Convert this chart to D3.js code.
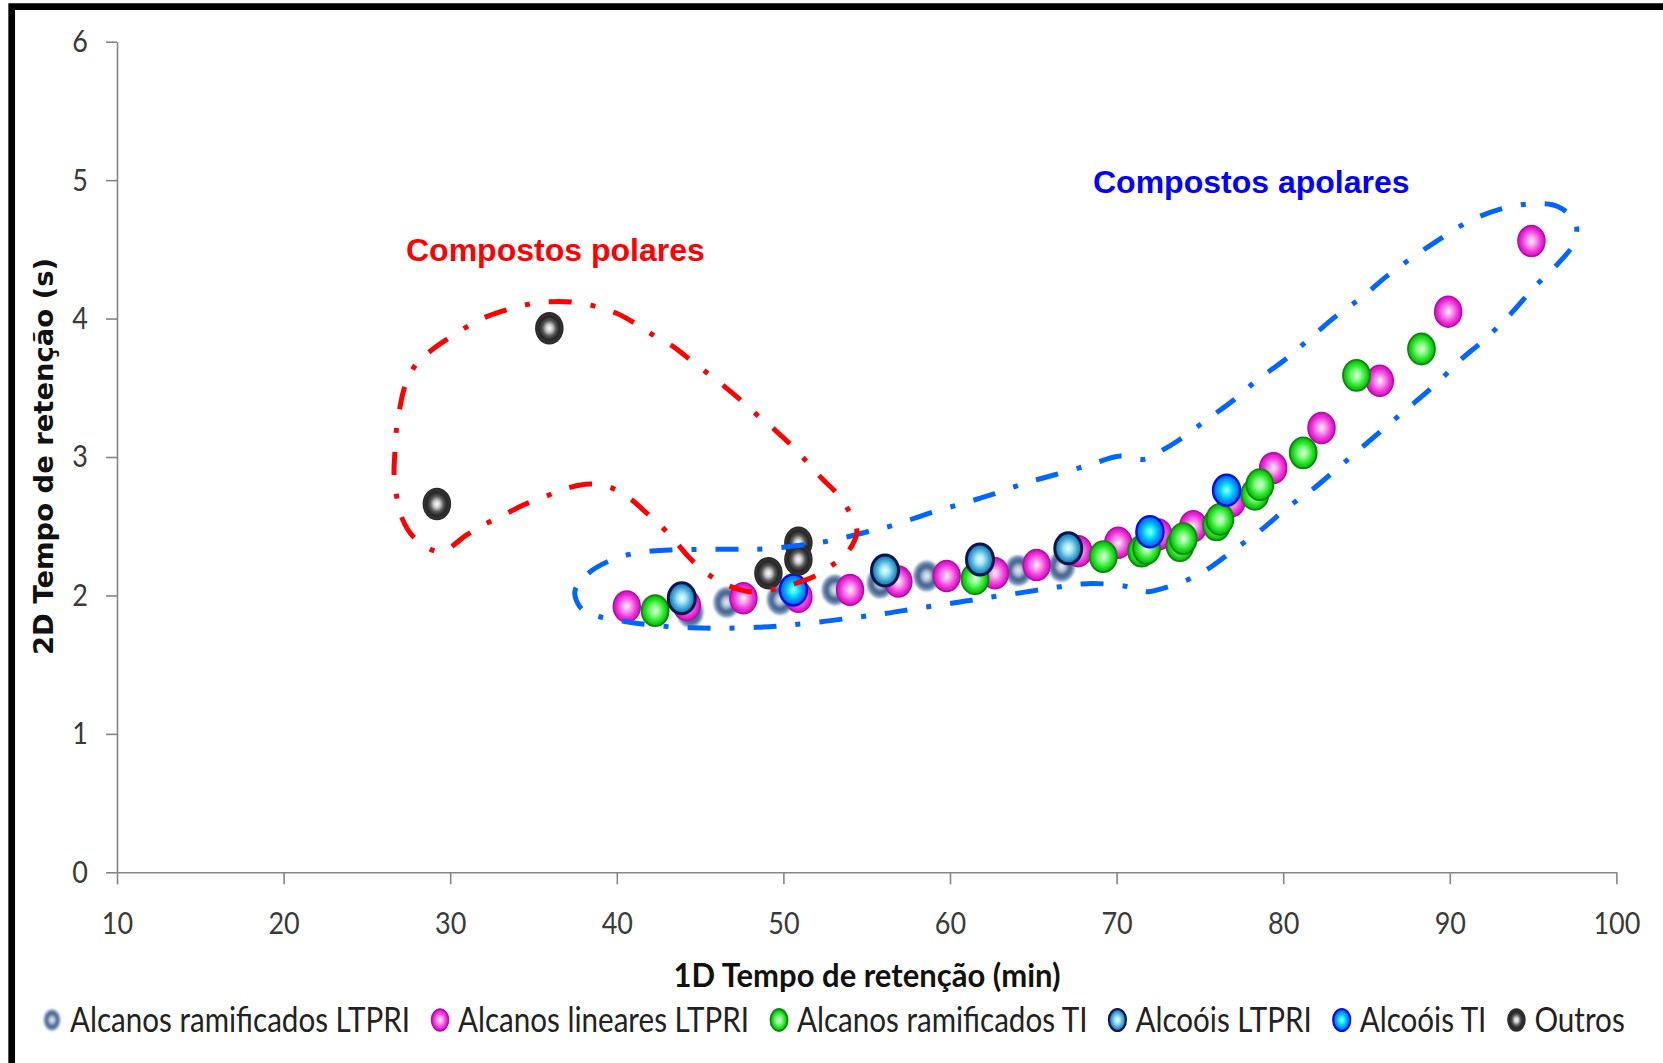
<!DOCTYPE html>
<html>
<head>
<meta charset="utf-8">
<script src="https://cdn.jsdelivr.net/npm/d3@7"></script>
<style>
  html, body { margin: 0; padding: 0; background: #fff; }
  svg { display: block; }
</style>
</head>
<body>
<svg id="chart" width="1663" height="1063"></svg>
<script>
// ---- data -------------------------------------------------------------
const seriesNames = [
  "Alcanos ramificados LTPRI",
  "Alcanos lineares LTPRI",
  "Alcanos ramificados TI",
  "Alcoóis LTPRI",
  "Alcoóis TI",
  "Outros"
];

// 1D retention time (min) / 2D retention time (s)
const ramLTPRI_x = [44.4, 46.6, 49.8, 53.1, 55.8, 58.6, 64.1, 66.7];
const ramLTPRI_y = [1.88, 1.95, 1.97, 2.04, 2.09, 2.14, 2.18, 2.21];

const linLTPRI_x = [40.6, 44.2, 47.6, 50.9, 54.0, 56.9, 59.8, 62.7, 65.2, 67.7, 70.1, 72.5, 74.6, 76.9, 79.4, 82.3, 85.8, 89.9, 94.9];
const linLTPRI_y = [1.92, 1.93, 1.98, 1.99, 2.04, 2.10, 2.14, 2.16, 2.22, 2.32, 2.38, 2.44, 2.50, 2.68, 2.92, 3.21, 3.55, 4.05, 4.56];

const ramTI_x = [42.3, 61.5, 69.2, 71.5, 71.8, 73.8, 74.0, 76.0, 76.2, 78.3, 78.6, 81.2, 84.4, 88.3];
const ramTI_y = [1.89, 2.12, 2.28, 2.32, 2.34, 2.36, 2.41, 2.51, 2.55, 2.73, 2.80, 3.03, 3.59, 3.78];

const alcLTPRI_x = [43.9, 56.1, 61.8, 67.1];
const alcLTPRI_y = [1.98, 2.18, 2.26, 2.34];

const alcTI_x = [50.6, 72.0, 76.6];
const alcTI_y = [2.04, 2.46, 2.76];

const outros_x = [29.2, 35.95, 49.1, 50.9, 50.9];
const outros_y = [2.66, 3.93, 2.16, 2.38, 2.26];

const xTicks = [10, 20, 30, 40, 50, 60, 70, 80, 90, 100];
const yTicks = [0, 1, 2, 3, 4, 5, 6];

// outlines of the two groups, in axis units
const polarOutline = [
  [29.39,2.316],[27.79,2.424],[27.09,2.564],[26.75,2.738],[26.63,2.882],[26.69,3.051],
  [26.79,3.219],[26.99,3.363],[27.29,3.513],[27.99,3.677],[28.89,3.773],[29.99,3.865],
  [31.19,3.954],[32.19,4.014],[33.49,4.067],[34.79,4.105],[36.09,4.122],[37.39,4.118],
  [38.79,4.086],[39.99,4.038],[41.19,3.959],[42.19,3.881],[43.39,3.797],[44.49,3.694],
  [45.59,3.592],[46.60,3.496],[47.59,3.395],[48.49,3.296],[49.50,3.195],[50.50,3.082],
  [51.40,2.966],[52.30,2.846],[53.20,2.738],[53.90,2.617],[54.30,2.521],[54.40,2.449],
  [53.80,2.304],[52.80,2.208],[51.80,2.135],[50.40,2.075],[49.20,2.039],[48.00,2.027],
  [46.60,2.075],[45.40,2.160],[44.39,2.268],[43.60,2.377],[42.69,2.497],[41.59,2.617],
  [40.69,2.709],[39.49,2.786],[38.39,2.805],[36.99,2.774],[35.69,2.713],[34.39,2.653],
  [33.29,2.586],[31.99,2.509],[30.99,2.437]
];
const apolarOutline = [
  [37.48,2.027],[38.29,2.160],[39.44,2.244],[41.04,2.304],[43.11,2.328],[45.18,2.333],
  [47.24,2.333],[48.85,2.336],[51.15,2.364],[52.99,2.400],[55.05,2.460],[56.66,2.509],
  [58.73,2.593],[60.80,2.666],[62.64,2.733],[64.48,2.810],[66.24,2.870],[68.35,2.942],
  [70.23,3.007],[71.63,2.983],[72.58,3.038],[73.75,3.123],[75.39,3.267],[77.03,3.412],
  [78.44,3.556],[80.08,3.701],[81.49,3.845],[83.13,4.014],[84.77,4.158],[86.18,4.303],
  [87.83,4.447],[89.47,4.580],[91.11,4.700],[92.99,4.789],[94.86,4.828],[96.51,4.808],
  [97.56,4.688],[97.44,4.544],[96.51,4.399],[95.10,4.230],[93.69,4.038],[92.05,3.845],
  [90.64,3.701],[89.23,3.533],[87.83,3.388],[86.42,3.244],[84.77,3.074],[83.37,2.930],
  [81.72,2.762],[80.32,2.641],[78.67,2.473],[77.03,2.328],[75.39,2.184],[73.98,2.099],
  [72.58,2.044],[71.87,2.027],[70.70,2.063],[69.29,2.083],[67.88,2.083],[66.00,2.052],
  [64.02,2.015],[61.95,1.979],[60.11,1.943],[58.04,1.907],[56.21,1.871],[54.37,1.842],
  [52.30,1.810],[50.23,1.784],[48.40,1.770],[46.33,1.763],[44.49,1.767],[42.42,1.781],
  [40.58,1.810],[38.98,1.846],[37.94,1.895]
];

const groupLabels = ["Compostos polares", "Compostos apolares"];
const xTitle = "1D Tempo de retenção (min)";
const yTitle = "2D Tempo de retenção (s)";

// ---- drawing ----------------------------------------------------------
const seriesX = [ramLTPRI_x, linLTPRI_x, ramTI_x, alcLTPRI_x, alcTI_x, outros_x];
const seriesY = [ramLTPRI_y, linLTPRI_y, ramTI_y, alcLTPRI_y, alcTI_y, outros_y];

const bodyFont = "Lato, 'Open Sans', 'DejaVu Sans', sans-serif";
const svg = d3.select("#chart");
const W = 1663, H = 1063;

const x = d3.scaleLinear().domain([10, 100]).range([117, 1616.4]);
const y = d3.scaleLinear().domain([0, 6]).range([872.3, 41.7]);

// horizontally condense a text element (narrow face look)
function condense(node, factor) {
  const len = node.getComputedTextLength();
  if (len > 0) {
    node.setAttribute("textLength", (len * factor).toFixed(2));
    node.setAttribute("lengthAdjust", "spacingAndGlyphs");
  }
}
// squeeze / stretch a text element to a given width
function fitWidth(node, w) {
  node.setAttribute("textLength", w);
  node.setAttribute("lengthAdjust", "spacingAndGlyphs");
}

// sphere-like marker fills
const markerStyles = [
  { stops: [[0,"#eef3f9"],[0.3,"#aebfd6"],[0.58,"#3d5d88"],[0.8,"#5e7ea8"],[1,"#a9bdd8"]], stroke: "none", sw: 0, blur: 1.1 },
  { stops: [[0,"#fff4fd"],[0.3,"#ffa0f0"],[0.72,"#f030dc"],[1,"#c810b8"]], stroke: "#b40ca6", sw: 1.5 },
  { stops: [[0,"#eaffea"],[0.3,"#90ff90"],[0.72,"#20e020"],[1,"#10a810"]], stroke: "#0a8a0a", sw: 1.8 },
  { stops: [[0,"#eafcff"],[0.3,"#a8e8f8"],[0.75,"#2f98cc"],[1,"#1d6aa6"]], stroke: "#0b1550", sw: 3 },
  { stops: [[0,"#b8ffff"],[0.3,"#18f2ff"],[0.72,"#0090ff"],[1,"#0060f0"]], stroke: "#0010e0", sw: 2.5 },
  { stops: [[0,"#ffffff"],[0.25,"#c8c8c8"],[0.5,"#585858"],[0.75,"#262626"],[1,"#3a3a3a"]], stroke: "#2a2a2a", sw: 1.5 }
];

const defs = svg.append("defs");
markerStyles.forEach((s, i) => {
  const g = defs.append("radialGradient").attr("id", "grad" + i)
    .attr("cx", "50%").attr("cy", "50%").attr("r", "50%");
  s.stops.forEach(([o, c]) => g.append("stop").attr("offset", o).attr("stop-color", c));
});
defs.append("filter").attr("id", "soft").attr("x", "-30%").attr("y", "-30%")
  .attr("width", "160%").attr("height", "160%")
  .append("feGaussianBlur").attr("stdDeviation", 1.1);

svg.append("rect").attr("width", W).attr("height", H).attr("fill", "#fff");

// outer frame (top and left edges)
svg.append("path").attr("d", `M11.7,${H} V6.7 H${W}`)
  .attr("fill", "none").attr("stroke", "#000").attr("stroke-width", 6.7);

// axes
const axisColor = "#868686";
const narrowFactor = 0.87;
const gx = svg.append("g").attr("transform", `translate(0,${y(0)})`)
  .call(d3.axisBottom(x).tickValues(xTicks).tickFormat(d3.format("d"))
    .tickSize(12).tickSizeOuter(0).tickPadding(28));
const gy = svg.append("g").attr("transform", `translate(${x(10)},0)`)
  .call(d3.axisLeft(y).tickValues(yTicks).tickFormat(d3.format("d"))
    .tickSize(11).tickSizeOuter(0).tickPadding(18));
[gx, gy].forEach(g => {
  g.select(".domain").attr("stroke", axisColor).attr("stroke-width", 1.6);
  g.selectAll(".tick line").attr("stroke", axisColor).attr("stroke-width", 1.6);
  g.selectAll(".tick text").attr("fill", "#3a3a3a").attr("font-family", bodyFont)
    .attr("font-size", 31).each(function () { condense(this, narrowFactor); });
});

// scatter series
const rx = 13.5, ry = 15.5;
seriesNames.forEach((name, i) => {
  const pts = seriesX[i].map((v, j) => [v, seriesY[i][j]]);
  const s = markerStyles[i];
  svg.append("g").attr("class", "series")
    .selectAll("ellipse").data(pts).join("ellipse")
    .attr("cx", d => x(d[0])).attr("cy", d => y(d[1]))
    .attr("rx", rx).attr("ry", ry)
    .attr("fill", `url(#grad${i})`)
    .attr("stroke", s.stroke).attr("stroke-width", s.sw)
    .attr("filter", s.blur ? "url(#soft)" : null);
});

// group outlines (dash-dot)
const outline = d3.line().x(d => x(d[0])).y(d => y(d[1])).curve(d3.curveCatmullRomClosed.alpha(0.5));
svg.append("path").attr("d", outline(apolarOutline))
  .attr("fill", "none").attr("stroke", "#0066ff").attr("stroke-width", 5)
  .attr("stroke-dasharray", "23,19,5,19");
svg.append("path").attr("d", outline(polarOutline))
  .attr("fill", "none").attr("stroke", "#ff0000").attr("stroke-width", 5)
  .attr("stroke-dasharray", "23,19,5,19");

// group labels
const labelFont = "'Liberation Sans', Arial, sans-serif";
svg.append("text").text(groupLabels[0]).attr("x", 406).attr("y", 261)
  .attr("font-family", labelFont).attr("font-weight", "bold").attr("font-size", 32).attr("fill", "#ff0000");
svg.append("text").text(groupLabels[1]).attr("x", 1093).attr("y", 193)
  .attr("font-family", labelFont).attr("font-weight", "bold").attr("font-size", 32).attr("fill", "#0000ff");

// axis titles
const xt = svg.append("text").text(xTitle).attr("x", 867).attr("y", 987)
  .attr("text-anchor", "middle").attr("font-family", bodyFont).attr("font-weight", "bold")
  .attr("font-size", 33).attr("fill", "#111");
fitWidth(xt.node(), 387);

const yt = svg.append("text").text(yTitle)
  .attr("transform", "translate(53,456.5) rotate(-90)")
  .attr("text-anchor", "middle").attr("font-family", "'DejaVu Sans', Verdana, sans-serif")
  .attr("font-weight", "bold").attr("font-size", 27).attr("fill", "#111");
fitWidth(yt.node(), 397);

// legend
const legend = svg.append("g").attr("class", "legend");
let lx = 52;
seriesNames.forEach((name, i) => {
  const s = markerStyles[i];
  legend.append("ellipse").attr("cx", lx).attr("cy", 1020).attr("rx", 8.5).attr("ry", 11)
    .attr("fill", `url(#grad${i})`).attr("stroke", s.stroke).attr("stroke-width", Math.min(s.sw, 2.2))
    .attr("filter", s.blur ? "url(#soft)" : null);
  const t = legend.append("text").text(name).attr("x", lx + 18).attr("y", 1031.5)
    .attr("font-family", bodyFont).attr("font-size", 34).attr("fill", "#222");
  const node = t.node();
  const w = node.getComputedTextLength() * narrowFactor;
  condense(node, narrowFactor);
  lx += 18 + w + 30;
});
</script>
</body>
</html>
